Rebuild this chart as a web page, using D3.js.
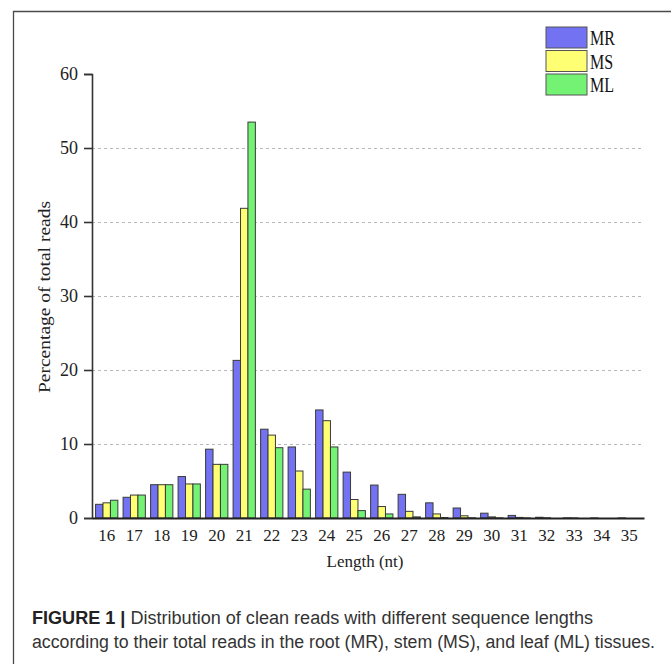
<!DOCTYPE html>
<html>
<head>
<meta charset="utf-8">
<script src="https://cdn.jsdelivr.net/npm/d3@7/dist/d3.min.js"></script>
<style>
  html, body { margin: 0; padding: 0; background: #fff; }
  svg { display: block; }
</style>
</head>
<body>
<svg id="chart" width="671" height="664"></svg>
<script>
// Read lengths (nt) and the share of total reads for each tissue
const lengths = [16, 17, 18, 19, 20, 21, 22, 23, 24, 25, 26, 27, 28, 29, 30, 31, 32, 33, 34, 35];
const seriesNames = ["MR", "MS", "ML"];
const mrValues = [1.85, 2.8, 4.5, 5.6, 9.3, 21.3, 12.0, 9.6, 14.6, 6.2, 4.45, 3.2, 2.05, 1.35, 0.65, 0.35, 0.1, 0.02, 0.01, 0.01];
const msValues = [2.05, 3.1, 4.5, 4.6, 7.25, 41.85, 11.2, 6.35, 13.15, 2.5, 1.55, 0.9, 0.55, 0.3, 0.15, 0.08, 0.03, 0.01, 0.0, 0.0];
const mlValues = [2.4, 3.1, 4.5, 4.6, 7.25, 53.5, 9.5, 3.9, 9.6, 1.0, 0.55, 0.15, 0.06, 0.03, 0.02, 0.01, 0.0, 0.0, 0.0, 0.0];
const yTicks = [0, 10, 20, 30, 40, 50, 60];
const gridTicks = [10, 20, 30, 40, 50];
const colors = ["#7272f2", "#ffff74", "#74f274"];

const captionBold = "FIGURE 1 |";
const captionLine1 = " Distribution of clean reads with different sequence lengths";
const captionLine2 = "according to their total reads in the root (MR), stem (MS), and leaf (ML) tissues.";

const seriesValues = [mrValues, msValues, mlValues];
const table = lengths.map((len, i) => ({
  len,
  values: seriesNames.map((name, s) => ({ name, s, v: seriesValues[s][i] }))
}));

const svg = d3.select("#chart");
const serif = "'Liberation Serif', 'Times New Roman', serif";
const sans = "'Liberation Sans', Arial, sans-serif";

// Outer frame (top and left edges)
svg.append("path")
  .attr("d", "M13.5,664 L13.5,11.5 L671,11.5")
  .attr("fill", "none")
  .attr("stroke", "#4a4a4a")
  .attr("stroke-width", 1.3);

const x0 = 92, x1 = 644, yTop = 74, yBase = 518;

const x = d3.scaleBand()
  .domain(lengths)
  .range([x0, x1])
  .paddingInner(0.19)
  .paddingOuter(0.13);

const xs = d3.scaleBand()
  .domain(seriesNames)
  .range([0, x.bandwidth()]);

const y = d3.scaleLinear().domain([0, 60]).range([yBase, yTop]);

// Dashed horizontal grid
svg.append("g")
  .selectAll("line")
  .data(gridTicks)
  .join("line")
  .attr("x1", x0).attr("x2", x1)
  .attr("y1", d => y(d) + 0.5).attr("y2", d => y(d) + 0.5)
  .attr("stroke", "#b8b8b8")
  .attr("stroke-width", 1)
  .attr("stroke-dasharray", "3,3");

// Bars
const groups = svg.append("g")
  .selectAll("g")
  .data(table)
  .join("g")
  .attr("transform", d => `translate(${x(d.len)},0)`);

groups.selectAll("rect")
  .data(d => d.values)
  .join("rect")
  .attr("x", d => xs(d.name))
  .attr("y", d => y(d.v))
  .attr("width", xs.bandwidth())
  .attr("height", d => y(0) - y(d.v))
  .attr("fill", d => colors[d.s])
  .attr("stroke", "#3a3a3a")
  .attr("stroke-width", 1);

// Y axis
const yAxis = svg.append("g")
  .attr("transform", `translate(${x0},0)`)
  .call(d3.axisLeft(y).tickValues(yTicks).tickSize(8).tickPadding(6).tickFormat(d3.format("d")));
yAxis.select(".domain").attr("stroke", "#333").attr("stroke-width", 1.6);
yAxis.selectAll(".tick line").attr("stroke", "#333").attr("stroke-width", 1.6);
yAxis.selectAll(".tick text")
  .attr("font-family", serif)
  .attr("font-size", 18)
  .attr("fill", "#222");

// X axis
const xAxis = svg.append("g")
  .attr("transform", `translate(0,${yBase})`)
  .call(d3.axisBottom(x).tickSize(0).tickPadding(11));
xAxis.select(".domain").attr("stroke", "#222").attr("stroke-width", 1.8);
xAxis.selectAll(".tick text")
  .attr("font-family", serif)
  .attr("font-size", 17)
  .attr("fill", "#222");

// Axis titles
svg.append("text")
  .attr("x", 365).attr("y", 567)
  .attr("text-anchor", "middle")
  .attr("font-family", serif)
  .attr("font-size", 17)
  .attr("fill", "#222")
  .text("Length (nt)");

svg.append("text")
  .attr("transform", `translate(50,${(yTop + yBase) / 2 + 1}) rotate(-90)`)
  .attr("text-anchor", "middle")
  .attr("font-family", serif)
  .attr("font-size", 17)
  .attr("textLength", 192)
  .attr("lengthAdjust", "spacingAndGlyphs")
  .attr("fill", "#222")
  .text("Percentage of total reads");

// Legend
const legend = svg.append("g").attr("transform", "translate(546,27)");
const legendItems = legend.selectAll("g")
  .data(seriesNames)
  .join("g")
  .attr("transform", (d, i) => `translate(0,${i * 23.5})`);
legendItems.append("rect")
  .attr("width", 41).attr("height", 21)
  .attr("fill", (d, i) => colors[i])
  .attr("stroke", "#555")
  .attr("stroke-width", 1);
legendItems.append("g")
  .attr("transform", "translate(44,18) scale(0.8,1)")
  .append("text")
  .attr("font-family", serif)
  .attr("font-size", 20)
  .attr("fill", "#111")
  .text(d => d);

// Caption
const cap1 = svg.append("text")
  .attr("x", 32).attr("y", 624)
  .attr("font-family", sans)
  .attr("font-size", 18)
  .attr("textLength", 561)
  .attr("lengthAdjust", "spacingAndGlyphs")
  .attr("fill", "#333");
cap1.append("tspan").attr("font-weight", "bold").attr("fill", "#222").text(captionBold);
cap1.append("tspan").text(captionLine1);

svg.append("text")
  .attr("x", 32).attr("y", 648)
  .attr("font-family", sans)
  .attr("font-size", 18)
  .attr("textLength", 623)
  .attr("lengthAdjust", "spacingAndGlyphs")
  .attr("fill", "#333")
  .text(captionLine2);
</script>
</body>
</html>
